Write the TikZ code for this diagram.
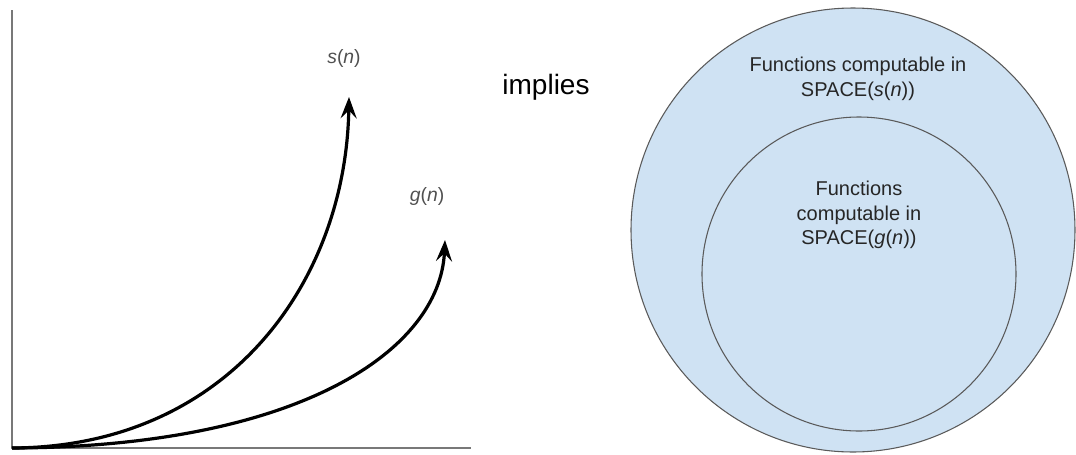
\documentclass[tikz,border=0pt]{standalone}
\usepackage{fontspec}
\setmainfont{Liberation Sans}
\usetikzlibrary{positioning, calc, arrows.meta}
\definecolor{set_blue}{RGB}{207, 226, 243}
\definecolor{rim_gray}{RGB}{90, 90, 90}
\definecolor{axis_gray}{RGB}{120, 120, 120}
\definecolor{label_gray}{RGB}{80, 80, 80}

\begin{document}
\begin{tikzpicture}[
    x=0.75pt, y=-0.75pt,
    >=Stealth,
    % growth curves
    growth/.style={
        -{Stealth[length=16pt, width=12pt, inset=6pt]},
        line width=2.4pt,
        black
    },
    axis/.style={draw=axis_gray, line width=1.1pt},
    fn_label/.style={text=label_gray, font=\fontsize{14.5}{17}\selectfont},
    % set circles
    set_circle/.style={
        circle,
        draw=rim_gray,
        line width=0.8pt,
        fill=set_blue,
        inner sep=0pt
    },
    set_text/.style={
        align=center,
        text=black!85,
        font=\fontsize{15}{18.5}\selectfont
    }
]
    \useasboundingbox (0,0) rectangle (1076,454);

    % ==========================================
    % 1. GROWTH PLOT
    % ==========================================

    \coordinate (origin) at (12,448);
    \coordinate (y_top) at (12,10);
    \coordinate (x_end) at (471,448);
    \draw [axis] (y_top) -- (origin) -- (x_end);

    \coordinate (s_tip) at (349,97);
    \coordinate (g_tip) at (445,240);

    \draw [growth] (origin) .. controls (230,447) and (346,280) .. (s_tip);
    \draw [growth] (origin) .. controls (300,447) and (440,350) .. (g_tip);

    \node (s_label) [fn_label] at (344,58) {\textit{s}(\textit{n})};
    \node (g_label) [fn_label] at (427,196) {\textit{g}(\textit{n})};

    % ==========================================
    % 2. IMPLIES
    % ==========================================

    \node (implies) at (546,87) {\fontsize{21}{25}\selectfont implies};

    % ==========================================
    % 3. NESTED SPACE CLASSES
    % ==========================================

    \node (outer_set) [set_circle, minimum size=333pt] at (853,230) {};
    \node (inner_set) [set_circle, minimum size=235.5pt] at (859,274) {};

    \node (outer_text) [set_text] at (858,79) {
        Functions computable in\\
        SPACE(\textit{s}(\textit{n}))
    };
    \node (inner_text) [set_text] at (859,215) {
        Functions\\
        computable in\\
        SPACE(\textit{g}(\textit{n}))
    };

\end{tikzpicture}
\end{document}
